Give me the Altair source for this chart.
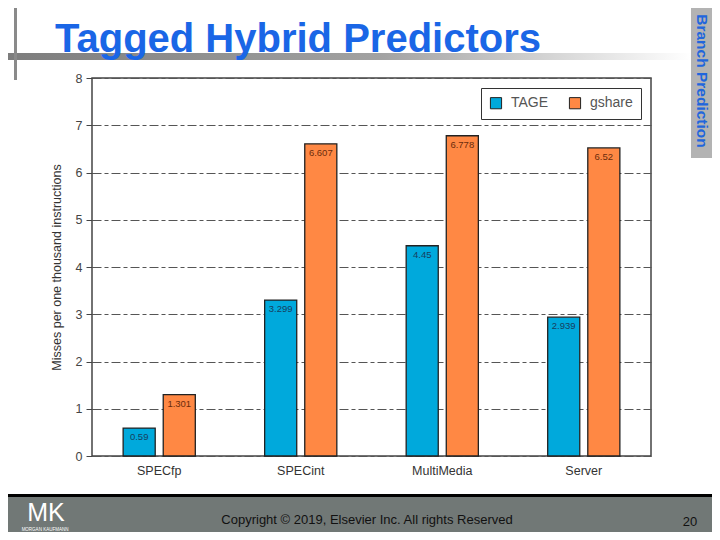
import altair as alt
import pandas as pd

categories = ["SPECfp", "SPECint", "MultiMedia", "Server"]
series = ["TAGE", "gshare"]
tage = [0.59, 3.299, 4.45, 2.939]
gshare = [1.301, 6.607, 6.778, 6.52]
tage_labels = ["0.59", "3.299", "4.45", "2.939"]
gshare_labels = ["1.301", "6.607", "6.778", "6.52"]
colors = ["#00a9dc", "#ff8844"]
y_ticks = [0, 1, 2, 3, 4, 5, 6, 7, 8]

slide_title = "Tagged Hybrid Predictors"
side_label = "Branch Prediction"
footer_text = "Copyright \u00a9 2019, Elsevier Inc. All rights Reserved"
page_number = "20"

rows = []
for i, c in enumerate(categories):
    rows.append(dict(category=c, series="TAGE", value=tage[i], label=tage_labels[i]))
    rows.append(dict(category=c, series="gshare", value=gshare[i], label=gshare_labels[i]))
df = pd.DataFrame(rows)
one = pd.DataFrame({"k": [0]})

FONT = "Liberation Sans"
W, H = 559, 378

x_enc = alt.X(
    "category:N", sort=categories,
    scale=alt.Scale(paddingInner=0.49, paddingOuter=0.22),
    axis=alt.Axis(title=None, labelAngle=0, ticks=False, domain=False,
                  labelFontSize=12.5, labelColor="#333", labelPadding=8,
                  labelFont=FONT, grid=False),
)
xoff = alt.XOffset("series:N", sort=series,
                   scale=alt.Scale(paddingInner=0.2, paddingOuter=0))
y_enc = alt.Y(
    "value:Q", scale=alt.Scale(domain=[0, 8], nice=False),
    axis=alt.Axis(values=y_ticks, title="Misses per one thousand instructions",
                  titleFontSize=12.5, titleFontWeight="normal", titleColor="#333",
                  titleFont=FONT, titlePadding=12, labelFontSize=12.5,
                  labelColor="#444", labelFont=FONT, tickSize=6, tickColor="#444",
                  labelPadding=4, domain=False, grid=True, gridColor="#555",
                  gridDash=[9, 3, 4, 3], gridWidth=1),
)

bars = alt.Chart(df).mark_bar(stroke="#222", strokeWidth=1.3).encode(
    x=x_enc, xOffset=xoff, y=y_enc,
    color=alt.Color("series:N", sort=series,
                    scale=alt.Scale(domain=series, range=colors),
                    legend=alt.Legend(title=None, orient="top-right",
                                      direction="horizontal", fillColor="white",
                                      strokeColor="#333", padding=8, offset=10,
                                      symbolType="square", symbolSize=125,
                                      symbolStrokeColor="#222", symbolStrokeWidth=1,
                                      labelFontSize=14, labelColor="#555",
                                      labelOffset=8, labelFont=FONT,
                                      columnPadding=18)),
)

lab_tage = alt.Chart(df).transform_filter(alt.datum.series == "TAGE").mark_text(
    baseline="top", dy=4, fontSize=9.5, font=FONT, color="#17405e").encode(
    x=alt.X("category:N", sort=categories), xOffset=alt.XOffset("series:N", sort=series),
    y="value:Q", text="label:N")
lab_gs = alt.Chart(df).transform_filter(alt.datum.series == "gshare").mark_text(
    baseline="top", dy=4, fontSize=9.5, font=FONT, color="#6b2c0c").encode(
    x=alt.X("category:N", sort=categories), xOffset=alt.XOffset("series:N", sort=series),
    y="value:Q", text="label:N")

# slide decorations (positions relative to plot origin at screen 92,78)
grad = alt.LinearGradient(gradient="linear", x1=0, x2=1, y1=0, y2=0, stops=[
    alt.GradientStop(offset=0, color="#7c7c7c"),
    alt.GradientStop(offset=0.55, color="#a2a2a2"),
    alt.GradientStop(offset=1, color="#ffffff")])
hbar = alt.Chart(one).mark_rect(fill=grad).encode(
    x=alt.value(-92), x2=alt.value(600), y=alt.value(-25), y2=alt.value(-18))
vbar = alt.Chart(one).mark_rect(color="#8a8a8a").encode(
    x=alt.value(-78), x2=alt.value(-75), y=alt.value(-75), y2=alt.value(2))
sidebox = alt.Chart(one).mark_rect(color="#b3b3b3").encode(
    x=alt.value(599), x2=alt.value(630), y=alt.value(-80), y2=alt.value(80))
fline = alt.Chart(one).mark_rect(color="#000000").encode(
    x=alt.value(-92), x2=alt.value(630), y=alt.value(416), y2=alt.value(419))
fband = alt.Chart(one).mark_rect(color="#717876").encode(
    x=alt.value(-92), x2=alt.value(630), y=alt.value(419), y2=alt.value(470))

title_t = alt.Chart(one).mark_text(
    text=slide_title, align="left", baseline="alphabetic", fontSize=40,
    fontWeight="bold", font=FONT, color="#1a66e6").encode(
    x=alt.value(-37), y=alt.value(-26))
side_t = alt.Chart(one).mark_text(
    text=side_label, align="center", baseline="middle", angle=90, fontSize=15.5,
    fontWeight="bold", font=FONT, color="#2166dd").encode(
    x=alt.value(610), y=alt.value(3))
copy_t = alt.Chart(one).mark_text(
    text=footer_text, align="center", baseline="middle", fontSize=13,
    font=FONT, color="#111").encode(x=alt.value(275), y=alt.value(442))
page_t = alt.Chart(one).mark_text(
    text=page_number, align="center", baseline="middle", fontSize=13,
    font=FONT, color="#111").encode(x=alt.value(598), y=alt.value(444))
mk_t = alt.Chart(one).mark_text(
    text="MK", align="center", baseline="alphabetic", fontSize=25,
    font=FONT, color="#ffffff").encode(
    x=alt.value(-46), y=alt.value(443))
mk_small = alt.Chart(one).mark_text(
    text="MORGAN KAUFMANN", align="center", baseline="alphabetic", fontSize=4.5,
    font=FONT, color="#ffffff").encode(x=alt.value(-47), y=alt.value(453))

chart = alt.layer(
    hbar, vbar, sidebox, fline, fband,
    bars, lab_tage, lab_gs,
    title_t, side_t, copy_t, page_t, mk_t, mk_small,
).properties(
    width=W, height=H,
    autosize=alt.AutoSizeParams(type="none"),
    padding={"left": 84, "top": 70, "right": 61, "bottom": 76},
).configure_view(stroke="#444", strokeWidth=1.5)

chart.save("out.html", embed_options={"renderer": "svg", "actions": False})
